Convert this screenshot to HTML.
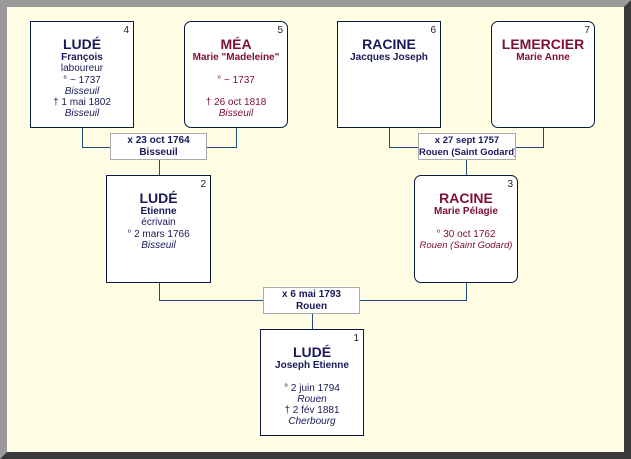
<!DOCTYPE html>
<html><head><meta charset="utf-8"><style>
html,body{margin:0;padding:0}
body{width:631px;height:459px;position:relative;overflow:hidden;font-family:"Liberation Sans",Arial,sans-serif;background:#fffde3}
.frame{position:absolute;left:0;top:0;width:631px;height:459px;box-sizing:border-box;border:7px solid;border-color:#9a9a9a #3a3a3a #3a3a3a #9a9a9a;background:#fffde3}
.box{position:absolute;width:104px;height:107px;box-sizing:border-box;border:1px solid #0a1a3a;background:#fff;text-align:center;color:#1a1a5a;padding-top:14px;font-size:10px;line-height:11.3px;white-space:nowrap}
.r{border-radius:7px}
.f{color:#80103a}
.num{position:absolute;right:4px;top:3px;font-size:10px;color:#222}
.nm{font-size:14px;font-weight:bold;line-height:16px}
.b{font-weight:bold}
i{display:block}
.m{position:absolute;width:97px;height:27px;box-sizing:border-box;border:1px solid #aaa;background:#fff;text-align:center;font-size:10px;font-weight:bold;color:#1a1a5a;line-height:12px;padding-top:1px;white-space:nowrap;overflow:hidden}
.l{position:absolute;background:#1f4f7f}
</style></head><body>
<div class="frame"></div>
<!-- connectors -->
<div class="l" style="left:82px;top:128px;width:1px;height:20px"></div>
<div class="l" style="left:82px;top:147px;width:28px;height:1px"></div>
<div class="l" style="left:207px;top:147px;width:30px;height:1px"></div>
<div class="l" style="left:236px;top:128px;width:1px;height:20px"></div>
<div class="l" style="left:159px;top:160px;width:1px;height:15px"></div>
<div class="l" style="left:389px;top:128px;width:1px;height:20px"></div>
<div class="l" style="left:389px;top:147px;width:29px;height:1px"></div>
<div class="l" style="left:516px;top:147px;width:28px;height:1px"></div>
<div class="l" style="left:543px;top:128px;width:1px;height:20px"></div>
<div class="l" style="left:466px;top:160px;width:1px;height:15px"></div>
<div class="l" style="left:159px;top:283px;width:1px;height:18px"></div>
<div class="l" style="left:159px;top:300px;width:104px;height:1px"></div>
<div class="l" style="left:360px;top:300px;width:107px;height:1px"></div>
<div class="l" style="left:466px;top:283px;width:1px;height:18px"></div>
<div class="l" style="left:312px;top:314px;width:1px;height:15px"></div>

<div class="box" style="left:30px;top:21px"><span class="num">4</span><div class="nm">LUDÉ</div><div class="b">François</div><div>laboureur</div><div>° ~ 1737</div><i>Bisseuil</i><div>† 1 mai 1802</div><i>Bisseuil</i></div>
<div class="box r f" style="left:184px;top:21px"><span class="num">5</span><div class="nm">MÉA</div><div class="b">Marie "Madeleine"</div><div>&nbsp;</div><div>° ~ 1737</div><div>&nbsp;</div><div>† 26 oct 1818</div><i>Bisseuil</i></div>
<div class="box" style="left:337px;top:21px"><span class="num">6</span><div class="nm">RACINE</div><div class="b">Jacques Joseph</div></div>
<div class="box r f" style="left:491px;top:21px"><span class="num">7</span><div class="nm">LEMERCIER</div><div class="b">Marie Anne</div></div>

<div class="m" style="left:110px;top:133px">x 23 oct 1764<br>Bisseuil</div>
<div class="m" style="left:418px;top:133px;width:98px;font-size:9.5px">x 27 sept 1757<br>Rouen (Saint Godard)</div>

<div class="box" style="left:106px;top:175px;width:105px;height:108px"><span class="num">2</span><div class="nm">LUDÉ</div><div class="b">Etienne</div><div>écrivain</div><div>° 2 mars 1766</div><i>Bisseuil</i></div>
<div class="box r f" style="left:414px;top:175px;height:108px"><span class="num">3</span><div class="nm">RACINE</div><div class="b">Marie Pélagie</div><div>&nbsp;</div><div>° 30 oct 1762</div><i style="font-size:9.5px">Rouen (Saint Godard)</i></div>

<div class="m" style="left:263px;top:287px">x 6 mai 1793<br>Rouen</div>

<div class="box" style="left:260px;top:329px"><span class="num">1</span><div class="nm">LUDÉ</div><div class="b">Joseph Etienne</div><div>&nbsp;</div><div>° 2 juin 1794</div><i>Rouen</i><div>† 2 fév 1881</div><i>Cherbourg</i></div>
</body></html>
